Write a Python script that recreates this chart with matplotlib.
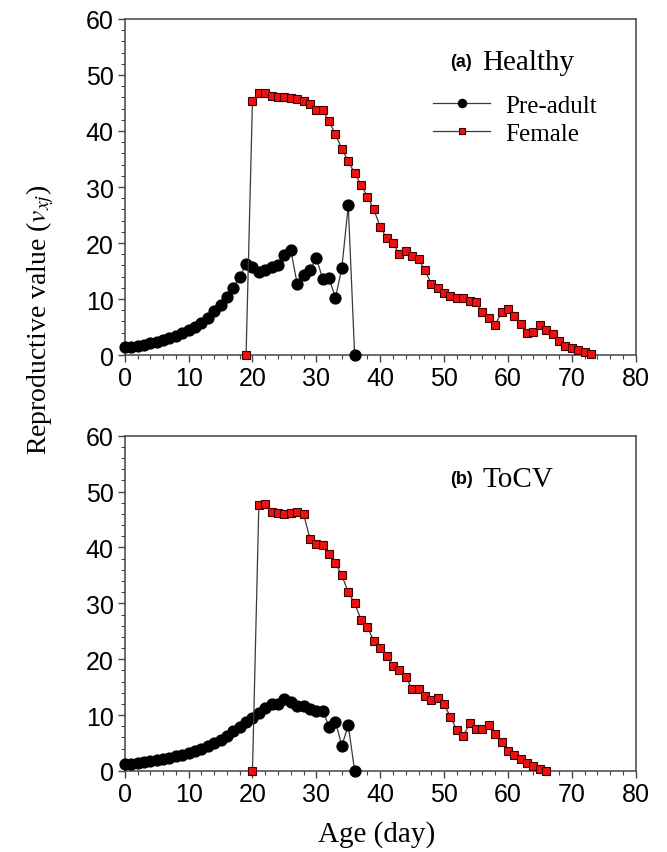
import matplotlib
matplotlib.use("Agg")
import matplotlib.pyplot as plt
from matplotlib.ticker import MultipleLocator

plt.rcParams['font.family'] = ['Liberation Sans', 'DejaVu Sans']
plt.rcParams['mathtext.fontset'] = 'stix'

# (a) Healthy
pre_age_a = list(range(0, 37))
pre_val_a = [1.4, 1.5, 1.7, 1.85, 2.1, 2.4, 2.7, 3.0, 3.45, 3.9, 4.5, 5.0, 5.8, 6.7,
             7.8, 8.9, 10.3, 12.0, 14.0, 16.2, 15.7, 14.8, 15.1, 15.8, 16.0, 17.9,
             18.75, 12.7, 14.3, 15.2, 17.3, 13.6, 13.7, 10.2, 15.6, 26.7, 0.0]
fem_age_a = list(range(19, 74))
fem_val_a = [0.0, 45.4, 46.7, 46.7, 46.2, 46.0, 46.0, 45.9, 45.7, 45.4, 44.8, 43.7,
             43.7, 41.7, 39.4, 36.8, 34.6, 32.5, 30.4, 28.3, 26.0, 22.9, 20.9, 20.0,
             18.0, 18.6, 17.7, 17.1, 15.2, 12.7, 11.9, 11.1, 10.5, 10.1, 10.2, 9.6,
             9.4, 7.6, 6.7, 5.4, 7.6, 8.2, 7.0, 5.5, 4.0, 4.1, 5.4, 4.5, 3.7, 2.5,
             1.7, 1.3, 0.9, 0.6, 0.1]

# (b) ToCV
pre_age_b = list(range(0, 37))
pre_val_b = [1.2, 1.25, 1.4, 1.55, 1.7, 1.9, 2.1, 2.35, 2.6, 2.85, 3.15, 3.6, 4.0,
             4.5, 5.0, 5.6, 6.3, 7.1, 7.9, 8.8, 9.5, 10.3, 11.2, 12.0, 12.0, 12.9,
             12.4, 11.6, 11.6, 11.1, 10.7, 10.8, 7.9, 8.8, 4.5, 8.2, 0.0]
fem_age_b = list(range(20, 67))
fem_val_b = [0.0, 47.6, 47.75, 46.4, 46.15, 46.0, 46.1, 46.4, 46.0, 41.6, 40.7, 40.5,
             38.9, 37.2, 35.0, 32.0, 30.0, 27.1, 25.8, 23.2, 22.0, 20.6, 18.8, 18.0,
             16.9, 14.6, 14.7, 13.4, 12.7, 13.0, 11.9, 9.7, 7.3, 6.2, 8.5, 7.6, 7.5,
             8.2, 6.7, 5.2, 3.5, 2.8, 2.1, 1.4, 0.8, 0.4, 0.06]

panels = [
    ("(a)", "Healthy", pre_age_a, pre_val_a, fem_age_a, fem_val_a),
    ("(b)", "ToCV", pre_age_b, pre_val_b, fem_age_b, fem_val_b),
]

fig = plt.figure(figsize=(6.67, 8.53), dpi=100)
ax_a = fig.add_axes([0.187, 0.5826, 0.766, 0.394])
ax_b = fig.add_axes([0.187, 0.095, 0.766, 0.393])

serif = 'Liberation Serif'
line_col = '#3a3a3a'

for ax, (tag, name, xp, yp, xf, yf) in zip([ax_a, ax_b], panels):
    ax.plot(xp, yp, color=line_col, lw=0.9, marker='o', ms=7.8, mfc='black',
            mec='black', clip_on=False, zorder=3, label='Pre-adult')
    ax.plot(xf, yf, color=line_col, lw=0.9, marker='s', ms=6.2, mfc='#ee1111',
            mec='#400000', mew=0.8, clip_on=False, zorder=4, label='Female')
    ax.set_xlim(0, 80)
    ax.set_ylim(0, 60)
    ax.xaxis.set_major_locator(MultipleLocator(10))
    ax.xaxis.set_minor_locator(MultipleLocator(2))
    ax.yaxis.set_major_locator(MultipleLocator(10))
    ax.yaxis.set_minor_locator(MultipleLocator(2))
    ax.tick_params(which='major', direction='out', length=5, width=1.0,
                   color='#444444', labelsize=18, pad=3)
    ax.tick_params(which='minor', direction='out', length=3, width=0.8,
                   color='#444444')
    for sp in ax.spines.values():
        sp.set_color('#444444')
        sp.set_linewidth(1.1)
    ax.text(0.636, 0.872, tag, transform=ax.transAxes, fontsize=13,
            fontweight='bold', ha='left', va='center')
    ax.text(0.700, 0.872, name, transform=ax.transAxes, fontsize=21,
            family=serif, ha='left', va='center')

ax_a.legend(loc='upper left', bbox_to_anchor=(0.603, 0.775), frameon=False,
            prop={'family': serif, 'size': 18}, handlelength=2.3,
            handletextpad=0.6, labelspacing=0.2, borderpad=0,
            borderaxespad=0, markerscale=0.75)

fig.text(40 / 667, 1 - 320 / 853, r'Reproductive value ($v_{xj}$)', rotation=90,
         ha='center', va='center', fontsize=20, family=serif)
fig.text(377 / 667, 1 - 835 / 853, 'Age (day)', ha='center', va='center',
         fontsize=21, family=serif)

fig.savefig('out.png', dpi=100)
